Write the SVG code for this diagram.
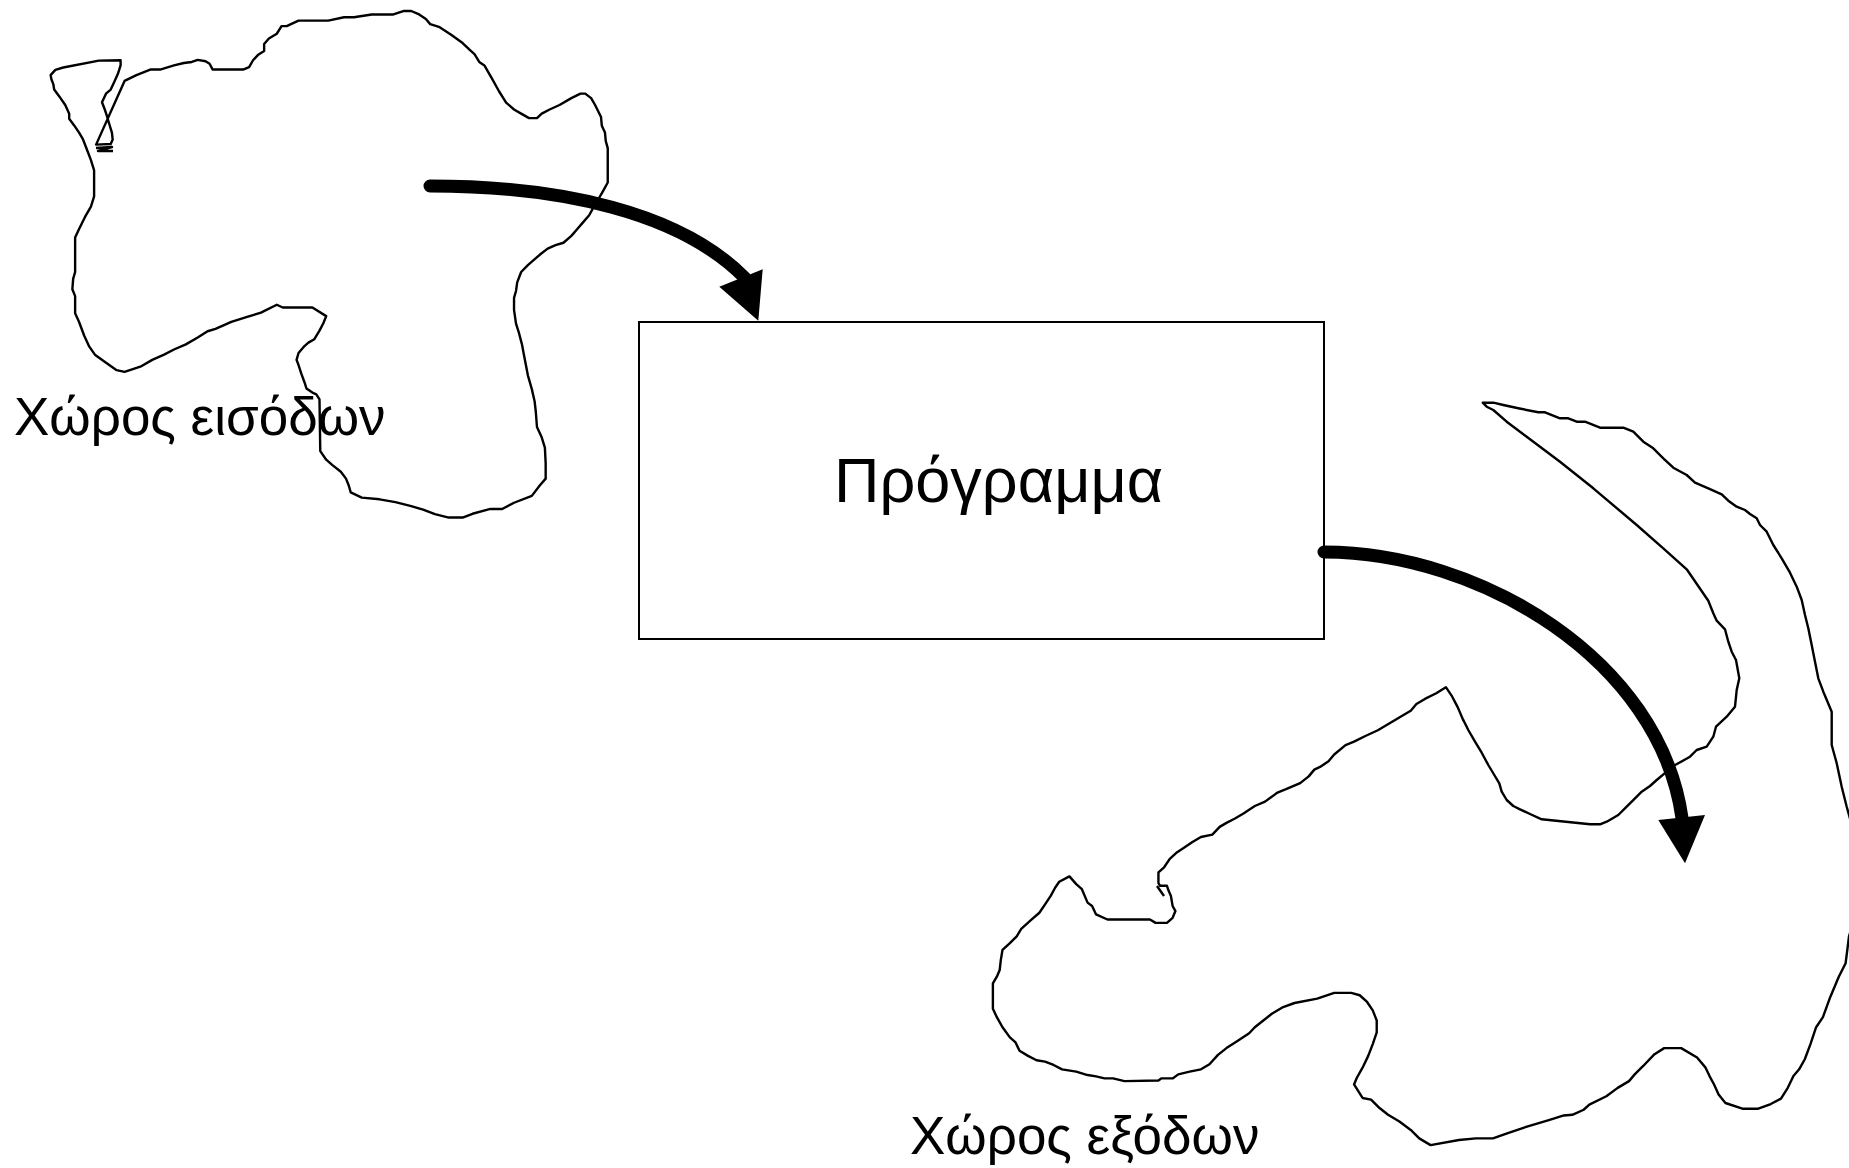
<svg xmlns="http://www.w3.org/2000/svg" width="1849" height="1168" viewBox="0 0 1849 1168">
<style>
.outline{fill:none;stroke:#000;stroke-width:2.4;stroke-linejoin:round;vector-effect:non-scaling-stroke}
.label{font-family:"Liberation Sans",Arial,sans-serif;font-size:53px;fill:#000}
.shaft{fill:none;stroke:#000;stroke-width:13;stroke-linecap:round}
.head{fill:#000;stroke:none}
</style>
<rect width="1849" height="1168" fill="#fff"/>
<g id="input-space">
<path class="outline" transform="scale(0.39541 0.34435)" d="M 128 218 L 140 203 L 160 196 L 250 176 L 305 175 L 305 190 L 298 215 L 288 240 L 280 260 L 268 272 L 258 297 L 265 318 L 270 335 L 275 355 L 283 385 L 285 405 L 280 418 L 243 420 L 315 235 L 345 218 L 380 202 L 405 202 L 440 190 L 465 183 L 485 180 L 500 174 L 520 178 L 530 185 L 538 202 L 615 202 L 630 195 L 640 175 L 652 160 L 668 148 L 668 128 L 680 112 L 700 98 L 712 76 L 725 76 L 755 60 L 830 60 L 870 50 L 895 50 L 940 42 L 995 42 L 1020 32 L 1040 32 L 1060 42 L 1077 55 L 1088 70 L 1110 78 L 1140 100 L 1170 125 L 1188 145 L 1200 157 L 1212 180 L 1225 190 L 1245 230 L 1262 265 L 1280 298 L 1300 318 L 1318 330 L 1338 343 L 1358 343 L 1370 330 L 1390 318 L 1415 305 L 1445 285 L 1468 272 L 1480 272 L 1495 285 L 1505 305 L 1520 340 L 1522 365 L 1530 385 L 1532 410 L 1537 430 L 1537 530 L 1525 555 L 1515 575 L 1502 600 L 1490 625 L 1475 645 L 1460 665 L 1445 685 L 1425 705 L 1405 712 L 1385 722 L 1365 740 L 1345 760 L 1335 770 L 1318 790 L 1308 820 L 1305 845 L 1300 865 L 1300 900 L 1305 940 L 1312 965 L 1320 1000 L 1325 1030 L 1330 1060 L 1335 1090 L 1345 1130 L 1352 1165 L 1355 1195 L 1358 1240 L 1370 1270 L 1378 1300 L 1380 1345 L 1380 1390 L 1365 1410 L 1345 1440 L 1300 1460 L 1270 1478 L 1240 1478 L 1195 1492 L 1170 1503 L 1135 1503 L 1100 1493 L 1070 1480 L 1040 1470 L 1000 1458 L 960 1450 L 915 1445 L 887 1430 L 882 1410 L 875 1390 L 862 1370 L 840 1350 L 825 1335 L 810 1310 L 808 1160 L 800 1145 L 790 1140 L 775 1128 L 770 1110 L 762 1085 L 755 1060 L 750 1045 L 755 1025 L 770 1005 L 780 995 L 795 985 L 808 960 L 818 938 L 825 918 L 790 893 L 715 893 L 700 885 L 660 908 L 625 920 L 585 935 L 545 955 L 525 962 L 500 980 L 470 1000 L 440 1015 L 415 1030 L 385 1045 L 355 1065 L 315 1080 L 295 1075 L 270 1055 L 240 1030 L 225 1005 L 213 975 L 200 935 L 190 910 L 190 860 L 183 840 L 185 810 L 190 790 L 190 690 L 200 665 L 215 630 L 230 600 L 238 570 L 238 495 L 230 465 L 220 435 L 210 405 L 200 385 L 188 365 L 175 345 L 175 330 L 165 305 L 150 280 L 137 260 L 135 245 L 130 230 Z"/>
<path class="outline" d="M 96 148 L 112 147 L 98 151 L 113 151"/>
<text class="label" x="14" y="435">Χώρος εισόδων</text>
</g>
<g id="output-space">
<path class="outline" d="M 1870 870 L 1856 840 L 1846.7 806.7 L 1841.7 786.7 L 1836.7 763.3 L 1831.7 745 L 1831.7 711.7 L 1823.3 691.7 L 1818.3 678.3 L 1815 661.7 L 1811.7 645 L 1808.3 628.3 L 1805 615 L 1801.7 600 L 1796.7 586.7 L 1790 572.7 L 1781.7 558.3 L 1773.3 545 L 1766.7 531.7 L 1760 525 L 1756.7 518.3 L 1750 514 L 1745 510 L 1736.7 506.7 L 1728.3 500.7 L 1721.7 494.3 L 1708.3 488.3 L 1695 482.7 L 1686.7 475 L 1673.3 467.7 L 1663.3 458.3 L 1653.3 448.3 L 1643.3 441.7 L 1633.3 431.7 L 1623.3 427.7 L 1600 427.7 L 1585 421.7 L 1576.7 421.7 L 1568.3 418.3 L 1560 418.3 L 1545 412.3 L 1538.3 412.3 L 1518.3 408.3 L 1503.3 405 L 1493.3 402.7 L 1482.7 402.7 L 1486.7 406.7 L 1493.3 410 L 1506.7 421.7 L 1526.7 436.7 L 1560 461.7 L 1593.3 488.3 L 1636.7 525 L 1663.3 548.3 L 1686.7 569.3 L 1708.3 600.7 L 1713.3 613.3 L 1716.7 620.7 L 1725 629.3 L 1728.3 641.7 L 1731.7 651.7 L 1736 660 L 1739.3 678.3 L 1736.7 690 L 1735 706.7 L 1726.7 716.7 L 1716 726.7 L 1713.3 736.7 L 1706.7 746.7 L 1696.7 750 L 1690 756.7 L 1678.3 763.3 L 1673.3 766 L 1666.7 771.7 L 1656.7 780 L 1650 786 L 1641.7 791.7 L 1635 798.3 L 1626.7 806.7 L 1618.3 815 L 1606.7 821.7 L 1600 824.3 L 1590 824.3 L 1541.7 819.3 L 1530 814 L 1520 809.3 L 1513.3 806 L 1506.7 800 L 1501.7 791.7 L 1499.3 783.3 L 1494.3 775 L 1488.3 765 L 1481.7 752.7 L 1475 741.7 L 1468.3 730 L 1463.3 720"/>
<path class="outline" transform="translate(960 640) scale(0.56697 0.33673)" d="M 888 240 L 878 200 L 867 165 L 857 140 L 840 158 L 820 175 L 805 190 L 795 210 L 780 225 L 760 245 L 737 268 L 715 285 L 695 302 L 680 312 L 660 340 L 650 360 L 635 377 L 625 385 L 615 405 L 600 425 L 575 443 L 560 453 L 552 463 L 538 480 L 520 493 L 500 515 L 485 530 L 470 543 L 458 555 L 445 578 L 425 585 L 410 600 L 395 617 L 383 630 L 370 650 L 360 675 L 350 690 L 350 722 L 353 730 L 365 730 L 368 745 L 372 760 L 375 790 L 380 805 L 375 825 L 365 840 L 345 840 L 335 830 L 260 830 L 240 815 L 233 790 L 225 780 L 215 740 L 205 725 L 193 702 L 175 718 L 168 735 L 160 760 L 150 785 L 140 810 L 125 832 L 108 858 L 100 880 L 88 900 L 75 920 L 72 950 L 70 980 L 65 1000 L 58 1020 L 58 1095 L 65 1120 L 75 1150 L 88 1180 L 98 1195 L 105 1220 L 120 1235 L 135 1248 L 150 1252 L 165 1262 L 180 1275 L 205 1282 L 225 1292 L 240 1296 L 255 1302 L 270 1302 L 290 1310 L 350 1308 L 355 1302 L 375 1302 L 385 1290 L 405 1282 L 425 1275 L 440 1260 L 455 1232 L 470 1212 L 490 1190 L 510 1168 L 520 1150 L 535 1130 L 550 1110 L 570 1090 L 590 1078 L 630 1065 L 660 1048 L 690 1048 L 705 1055 L 718 1075 L 728 1100 L 735 1130 L 735 1165 L 728 1200 L 720 1235 L 710 1270 L 700 1300 L 695 1320 L 710 1360 L 725 1365 L 740 1390 L 755 1410 L 775 1430 L 795 1455 L 810 1480 L 830 1500 L 880 1485 L 910 1480 L 940 1480 L 965 1465 L 1000 1445 L 1040 1425 L 1065 1412 L 1080 1410 L 1100 1395 L 1110 1380 L 1140 1355 L 1160 1330 L 1180 1310 L 1190 1290 L 1205 1265 L 1225 1230 L 1242 1212 L 1272 1212 L 1300 1240 L 1315 1270 L 1322 1295 L 1330 1320 L 1338 1350 L 1350 1375 L 1380 1392 L 1408 1392 L 1430 1378 L 1448 1362 L 1460 1330 L 1470 1295 L 1480 1275 L 1490 1245 L 1500 1200 L 1510 1150 L 1522 1120 L 1535 1060 L 1550 1000 L 1562 960 L 1568 880 L 1600 700"/>
<path class="outline" d="M 1157 886 L 1164 896"/>
<text class="label" x="910" y="1154">Χώρος εξόδων</text>
</g>
<g id="program">
<rect x="639" y="322" width="685" height="317" fill="#fff" stroke="#000" stroke-width="2"/>
<text x="834" y="502" font-family="Liberation Sans, Arial, sans-serif" font-size="63" fill="#000">Πρόγραμμα</text>
</g>
<g id="connectors">
<path class="shaft" d="M 430 186 C 560 186, 680 212, 745 278"/>
<polygon class="head" points="719.3,286.7 762.7,269.3 758.3,320.7"/>
<path class="shaft" d="M 1324 552 C 1480 552, 1660 660, 1682 818"/>
<polygon class="head" points="1658.3,820 1705,815 1685,863.3"/>
</g>
</svg>
